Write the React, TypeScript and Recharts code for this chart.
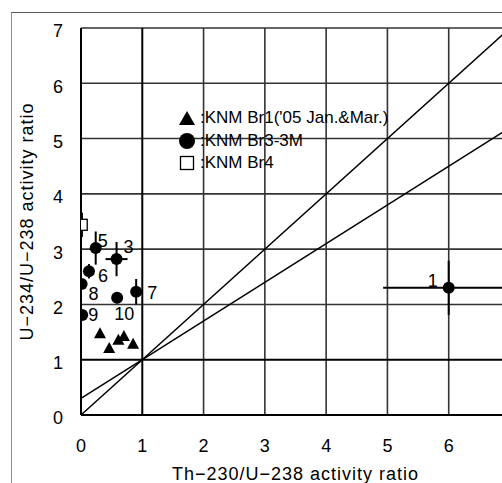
import React from "react";
import {
  ScatterChart,
  Scatter,
  XAxis,
  YAxis,
  ReferenceLine,
  ErrorBar,
  Legend,
} from "recharts";

// axis ticks (the x range runs to 7 but only 0-6 are labelled)
const X_TICKS = [0, 1, 2, 3, 4, 5, 6];
const Y_TICKS = [0, 1, 2, 3, 4, 5, 6, 7];
// grid values (0 is the axis, 1 gets a heavier line)
const X_GRID = [2, 3, 4, 5, 6];
const Y_GRID = [2, 3, 4, 5, 6, 7];

const SERIES_NAMES = ["KNM Br1('05 Jan.&Mar.)", "KNM Br3-3M", "KNM Br4"];

// KNM Br1, Jan. & Mar. 2005
const BR1 = [
  { x: 0.31, y: 1.48 },
  { x: 0.46, y: 1.21 },
  { x: 0.61, y: 1.36 },
  { x: 0.7, y: 1.43 },
  { x: 0.85, y: 1.29 },
];

// KNM Br3-3M, numbered samples with 1-sigma errors
const BR3 = [
  { id: "1", x: 6.0, y: 2.3, ex: 1.07, ey: 0.49 },
  { id: "3", x: 0.58, y: 2.82, ex: 0.18, ey: 0.31 },
  { id: "5", x: 0.24, y: 3.02, ex: 0, ey: 0.3 },
  { id: "6", x: 0.13, y: 2.6, ex: 0, ey: 0.13 },
  { id: "7", x: 0.9, y: 2.23, ex: 0, ey: 0.23 },
  { id: "8", x: 0.01, y: 2.37, ex: 0, ey: 0 },
  { id: "9", x: 0.02, y: 1.81, ex: 0, ey: 0 },
  { id: "10", x: 0.59, y: 2.12, ex: 0, ey: 0.1 },
];

// KNM Br4
const BR4 = [{ x: 0.02, y: 3.44, ey: 0.22 }];

// reference lines: U-234/U-238 = intercept + slope * Th-230/U-238
const TREND_LINES = [
  { intercept: 0, slope: 1 },
  { intercept: 0.3, slope: 0.7 },
];

// where each sample number sits relative to its marker (px)
const LABEL_OFFSET: Record<string, [number, number]> = {
  "1": [-16, -7],
  "3": [12, -13],
  "5": [7, -8],
  "6": [14, 4],
  "7": [16, 1],
  "8": [12, 10],
  "9": [11, 0],
  "10": [7, 16],
};

const FONT = "'Liberation Sans', Arial, sans-serif";

function TriangleDot({ cx, cy }: any) {
  return (
    <polygon
      points={`${cx - 6},${cy + 5} ${cx},${cy - 6} ${cx + 6},${cy + 5}`}
      fill="#000"
    />
  );
}

function CircleDot({ cx, cy, payload }: any) {
  const [dx, dy] = LABEL_OFFSET[payload.id] || [10, 0];
  return (
    <g>
      <circle cx={cx} cy={cy} r={6} fill="#000" />
      <text
        x={cx + dx}
        y={cy + dy}
        dy="0.36em"
        textAnchor="middle"
        fontSize={18}
        fontFamily={FONT}
        fill="#000"
      >
        {payload.id}
      </text>
    </g>
  );
}

function SquareDot({ cx, cy }: any) {
  return (
    <rect
      x={cx - 5}
      y={cy - 5.5}
      width={10}
      height={11}
      fill="#fff"
      stroke="#000"
      strokeWidth={1.3}
    />
  );
}

function YTick({ x, y, payload }: any) {
  return (
    <text x={x} y={y + 3} dy="0.36em" textAnchor="end" fontSize={18} fontFamily={FONT} fill="#000">
      {payload.value}
    </text>
  );
}

function XTick({ x, y, payload }: any) {
  return (
    <text x={x} y={y} dy="0.72em" textAnchor="middle" fontSize={18} fontFamily={FONT} fill="#000">
      {payload.value}
    </text>
  );
}

const LEGEND_ICONS = [
  <polygon key="t" points="1,16 9,2 17,16" fill="#000" />,
  <circle key="c" cx={9} cy={9} r={8} fill="#000" />,
  <rect key="s" x={2.5} y={2.5} width={13} height={13} fill="#fff" stroke="#000" strokeWidth={1.3} />,
];

function SeriesLegend() {
  return (
    <div style={{ fontFamily: FONT, fontSize: 17, color: "#000" }}>
      {SERIES_NAMES.map((name, i) => (
        <div key={name} style={{ display: "flex", alignItems: "center", height: 22.5 }}>
          <svg width={18} height={18} style={{ overflow: "visible" }}>
            {LEGEND_ICONS[i]}
          </svg>
          <span style={{ marginLeft: 4, whiteSpace: "nowrap" }}>:{name}</span>
        </div>
      ))}
    </div>
  );
}

export default function App() {
  return (
    <div
      style={{
        position: "absolute",
        left: 0,
        top: 0,
        width: 502,
        height: 483,
        overflow: "hidden",
        background: "#fff",
      }}
    >
      {/* outer figure frame */}
      <div
        style={{
          position: "absolute",
          left: 11,
          top: 12,
          width: 500,
          height: 480,
          borderLeft: "1px solid #8a8a8a",
          borderTop: "1px solid #555",
        }}
      />
      <ScatterChart
        width={520}
        height={483}
        margin={{ top: 28, right: 10, bottom: 0, left: 0 }}
        style={{ fontFamily: FONT }}
      >
        <XAxis
          type="number"
          dataKey="x"
          domain={[0, 7]}
          ticks={X_TICKS}
          allowDataOverflow
          height={68}
          tickLine={false}
          tickSize={0}
          tickMargin={24}
          axisLine={{ stroke: "#000", strokeWidth: 2 }}
          tick={<XTick />}
          label={{
            value: "Th\u2212230/U\u2212238 activity ratio",
            position: "insideBottom",
            offset: 3,
            fontSize: 18,
            fill: "#000",
            letterSpacing: 1,
          }}
        />
        <YAxis
          type="number"
          dataKey="y"
          domain={[0, 7]}
          ticks={Y_TICKS}
          allowDataOverflow
          width={81}
          tickLine={false}
          tickSize={0}
          tickMargin={18}
          axisLine={{ stroke: "#000", strokeWidth: 2 }}
          tick={<YTick />}
          label={{
            value: "U\u2212234/U\u2212238 activity ratio",
            angle: -90,
            position: "insideLeft",
            offset: 27,
            fontSize: 18,
            fill: "#000",
            letterSpacing: 1,
            style: { textAnchor: "middle" },
          }}
        />
        {/* grid */}
        {X_GRID.map((v) => (
          <ReferenceLine key={v} x={v} stroke="#333" strokeWidth={1.6} />
        ))}
        {Y_GRID.map((v) => (
          <ReferenceLine key={v} y={v} stroke="#333" strokeWidth={1.6} />
        ))}
        <ReferenceLine x={1} stroke="#000" strokeWidth={2} />
        <ReferenceLine y={1} stroke="#000" strokeWidth={2} />
        {TREND_LINES.map((l, i) => (
          <ReferenceLine
            key={i}
            segment={[
              { x: 0, y: l.intercept },
              { x: 7, y: l.intercept + l.slope * 7 },
            ]}
            stroke="#000"
            strokeWidth={1.5}
          />
        ))}
        <Legend
          layout="vertical"
          align="center"
          verticalAlign="middle"
          content={<SeriesLegend />}
          wrapperStyle={{ left: 178, top: 107, width: 260 }}
        />
        <Scatter name={SERIES_NAMES[0]} data={BR1} shape={<TriangleDot />} isAnimationActive={false} />
        <Scatter name={SERIES_NAMES[1]} data={BR3} shape={<CircleDot />} isAnimationActive={false}>
          <ErrorBar dataKey="ey" direction="y" width={0} stroke="#000" strokeWidth={2} isAnimationActive={false} />
          <ErrorBar dataKey="ex" direction="x" width={0} stroke="#000" strokeWidth={2} isAnimationActive={false} />
        </Scatter>
        <Scatter name={SERIES_NAMES[2]} data={BR4} shape={<SquareDot />} isAnimationActive={false}>
          <ErrorBar dataKey="ey" direction="y" width={0} stroke="#000" strokeWidth={1.5} isAnimationActive={false} />
        </Scatter>
      </ScatterChart>
    </div>
  );
}
